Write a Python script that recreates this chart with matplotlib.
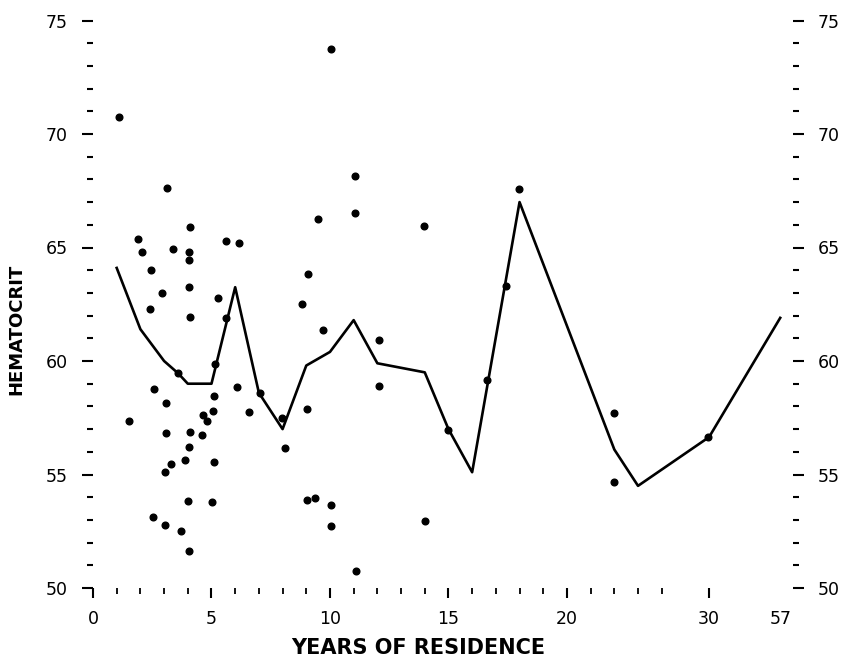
import matplotlib
matplotlib.use('Agg')
import matplotlib.pyplot as plt

# axis positions (years 0-20 linear, then broken scale: "30" sits at 26, "57" at 29)
tick_pos = [0, 5, 10, 15, 20, 26, 29]
tick_lab = ['0', '5', '10', '15', '20', '30', '57']
minor_pos = [1, 2, 3, 4, 6, 7, 8, 9, 11, 12, 13, 14, 16, 17, 18, 19, 21, 22, 23, 24]

# mean hematocrit line
line_pos = [1, 2, 3, 3.6, 4, 5, 6, 7, 8, 9, 10, 11, 12, 14, 15, 16, 18, 22, 23, 26, 29]
line_hct = [64.1, 61.4, 60.0, 59.45, 59.0, 59.0, 63.25, 58.6, 57.0, 59.8, 60.4,
            61.8, 59.9, 59.5, 57.0, 55.1, 67.0, 56.1, 54.5, 56.65, 61.9]

# individual subjects
pt_pos = [1.11, 3.11, 4.09, 1.89, 5.62, 6.17, 2.08, 3.39, 4.06, 4.06, 2.43, 4.04,
          2.92, 5.26, 2.42, 4.08, 5.61, 5.15, 3.60, 2.59, 5.11, 6.08, 3.09, 5.08,
          6.59, 4.65, 4.80, 1.53, 3.09, 4.08, 4.59, 4.05, 3.87, 5.11, 3.28, 3.05,
          4.02, 5.03, 2.53, 3.05, 3.70, 4.04, 7.05, 7.96, 8.10, 9.03, 9.04, 9.37,
          10.04, 10.04, 11.08, 12.07, 12.07, 10.03, 11.05, 9.51, 11.04, 13.97,
          9.07, 8.81, 9.72, 22.0, 22.0, 14.01, 16.61, 14.99, 25.94, 17.97, 17.41]
pt_hct = [70.75, 67.63, 65.89, 65.36, 65.30, 65.19, 64.79, 64.92, 64.82, 64.45,
          64.00, 63.27, 62.98, 62.79, 62.30, 61.95, 61.88, 59.87, 59.48, 58.78,
          58.47, 58.84, 58.16, 57.81, 57.77, 57.62, 57.37, 57.34, 56.83, 56.87,
          56.75, 56.20, 55.65, 55.56, 55.48, 55.11, 53.82, 53.80, 53.14, 52.76,
          52.52, 51.62, 58.60, 57.48, 56.15, 57.90, 53.88, 53.95, 53.66, 52.73,
          50.75, 60.93, 58.90, 73.76, 68.14, 66.26, 66.51, 65.96, 63.82, 62.51,
          61.37, 57.70, 54.68, 52.95, 59.16, 56.96, 56.64, 67.58, 63.30]

fig = plt.figure(figsize=(8.44, 6.62), dpi=100)
ax = fig.add_axes([93 / 844, 74 / 662, 700 / 844, 567.5 / 662])

ax.plot(line_pos, line_hct, color='black', linewidth=1.9)
ax.plot(pt_pos, pt_hct, 'o', color='black', markersize=4.8)

ax.set_xlim(0, 29.54)
ax.set_ylim(50, 75)

for s in ax.spines.values():
    s.set_visible(False)

ax.set_xticks(tick_pos)
ax.set_xticklabels(tick_lab)
ax.set_xticks(minor_pos, minor=True)
ax.set_yticks(range(50, 76, 5))
ax.set_yticks(range(50, 76), minor=True)

ax.tick_params(axis='both', which='major', direction='out', width=1.5,
               labelsize=12.5, color='black')
ax.tick_params(axis='y', which='major', length=8, pad=10,
               left=True, right=True, labelleft=True, labelright=True)
ax.tick_params(axis='y', which='minor', length=4.5, width=1.5,
               left=True, right=True)
ax.tick_params(axis='x', which='major', length=7, pad=9)
ax.tick_params(axis='x', which='minor', length=4, width=1.3)
# no tick mark under the last label
ax.xaxis.get_major_ticks()[-1].tick1line.set_visible(False)

ax.set_ylabel('HEMATOCRIT', fontsize=13, fontweight='bold')
ax.yaxis.set_label_coords(-0.097, 0.455)
ax.set_xlabel('YEARS OF RESIDENCE', fontsize=15, fontweight='bold')
ax.xaxis.set_label_coords(0.464, -0.088)

fig.savefig('out.png', dpi=100)
